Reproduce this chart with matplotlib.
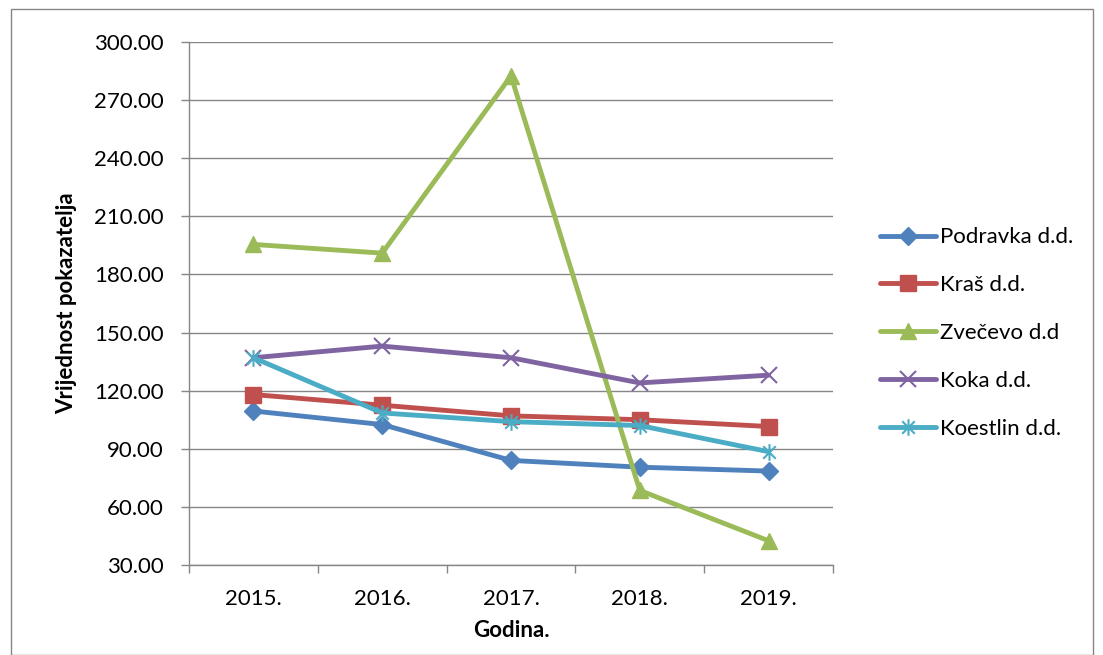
import matplotlib
matplotlib.use("Agg")
import matplotlib.pyplot as plt
from matplotlib.path import Path
from matplotlib.patches import Rectangle

years = ["2015.", "2016.", "2017.", "2018.", "2019."]
podravka = [109.5, 102.5, 84.0, 80.5, 78.5]
kras = [118.0, 112.5, 107.0, 105.0, 101.5]
zvecevo = [195.5, 191.0, 282.5, 68.5, 42.5]
koka = [137.0, 143.0, 137.0, 124.0, 128.0]
koestlin = [137.0, 108.5, 104.0, 102.0, 88.5]

series_names = ["Podravka d.d.", "Kraš d.d.", "Zvečevo d.d", "Koka d.d.", "Koestlin d.d."]
yticks = [30, 60, 90, 120, 150, 180, 210, 240, 270, 300]

plt.rcParams['font.family'] = ['Lato', 'DejaVu Sans']
FS = 16

fig = plt.figure(figsize=(11.03, 6.55), dpi=100)
ax = fig.add_axes([189/1103, 1-565/655, (833-189)/1103, (565-42)/655])

star = Path([(0, -1), (0, 1), (-0.75, -0.75), (0.75, 0.75), (-0.75, 0.75), (0.75, -0.75)],
            [Path.MOVETO, Path.LINETO, Path.MOVETO, Path.LINETO, Path.MOVETO, Path.LINETO])

styles = [
    dict(color="#4F81BD", marker="D", ms=9),
    dict(color="#C0504D", marker="s", ms=11),
    dict(color="#9BBB59", marker="^", ms=12),
    dict(color="#8064A2", marker="x", ms=11, mew=1.5),
    dict(color="#4BACC6", marker=star, ms=12, mew=1.5),
]
data = [podravka, kras, zvecevo, koka, koestlin]
x = list(range(len(years)))
for name, vals, st in zip(series_names, data, styles):
    ax.plot(x, vals, lw=3.5, label=name, solid_joinstyle='round', solid_capstyle='round', **st)

ax.set_xlim(-0.5, len(years) - 0.5)
ax.set_ylim(30, 300)
ax.set_yticks(yticks)
ax.set_yticklabels([f"{v:.2f}" for v in yticks])
ax.set_xticks(x)
ax.set_xticklabels(years)
ax.set_xticks([i - 0.5 for i in range(len(years) + 1)], minor=True)
ax.tick_params(axis='x', which='major', length=0, pad=17, labelsize=FS)
ax.tick_params(axis='x', which='minor', length=6, color='#868686', width=1, direction='out')
ax.tick_params(axis='y', length=6, color='#868686', width=1, labelsize=FS, pad=12)
ax.yaxis.grid(True, color='#868686', lw=1)
ax.set_axisbelow(True)
for s in ['top', 'right']:
    ax.spines[s].set_visible(False)
for s in ['left', 'bottom']:
    ax.spines[s].set_color('#868686')
    ax.spines[s].set_linewidth(1)

ax.set_ylabel("Vrijednost pokazatelja", fontsize=FS, fontweight='bold', labelpad=12)
ax.set_xlabel("Godina.", fontsize=FS, fontweight='bold', labelpad=8)

leg = ax.legend(loc='center left', bbox_to_anchor=(1.073, 0.4436), frameon=False,
                fontsize=FS, handlelength=2.5, handletextpad=0.2, labelspacing=1.25,
                numpoints=1, borderpad=0, borderaxespad=0)

fig.patches.append(Rectangle((11/1103, 0.0), (1093-11)/1103, 1-9/655, transform=fig.transFigure,
                             fill=False, edgecolor='#868686', lw=1))

fig.savefig("out.png", dpi=100, facecolor='white')
